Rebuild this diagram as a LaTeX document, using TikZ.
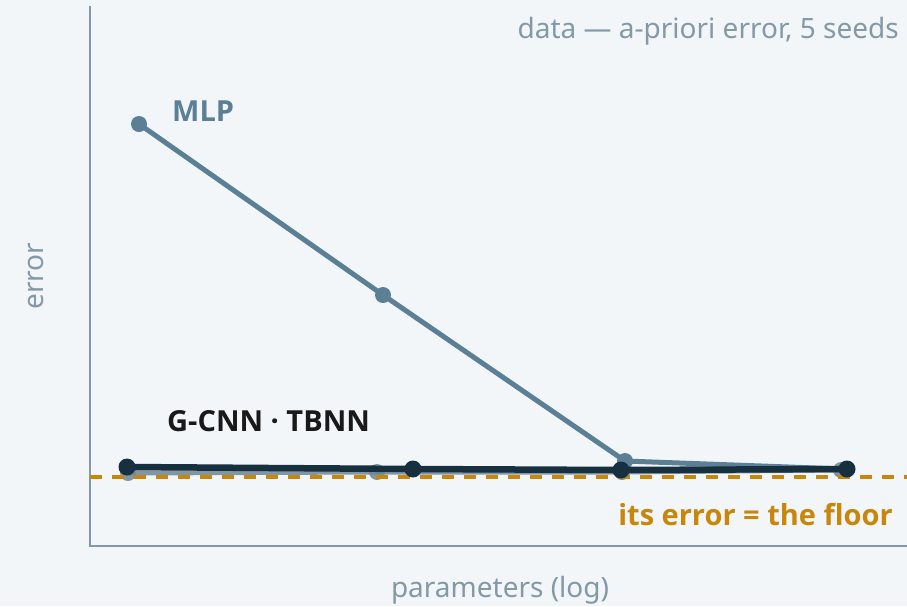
\documentclass[tikz,border=0pt]{standalone}
\usepackage{fontspec}
\setmainfont{Noto Sans}
\newfontfamily\labelfam{Open Sans}
\definecolor{bg}{HTML}{F3F6F9}
\definecolor{axisc}{HTML}{8399A6}
\definecolor{mlpc}{HTML}{5B7F95}
\definecolor{darkc}{HTML}{16303F}
\definecolor{grayc}{HTML}{6F8594}
\definecolor{floorc}{HTML}{C8860A}
\tikzset{
  txt/.style={inner sep=0pt, font=\fontsize{28}{34}\selectfont},
  btxt/.style={inner sep=0pt, font=\labelfam\fontsize{29}{35}\selectfont\bfseries},
  axisline/.style={draw=axisc, line width=2pt},
  mlpline/.style={draw=mlpc, line width=5pt, line join=round},
  darkline/.style={draw=darkc, line width=6.5pt, line join=round},
  grayline/.style={draw=grayc, line width=5pt, line join=round, opacity=0.85},
  floorline/.style={draw=floorc, line width=4pt, dash pattern=on 12pt off 10pt},
  mlpdot/.style={circle, fill=mlpc, inner sep=0pt, minimum size=16pt},
  darkdot/.style={circle, fill=darkc, inner sep=0pt, minimum size=17pt},
  graydot/.style={circle, fill=grayc, inner sep=0pt, minimum size=16pt, opacity=0.85},
}
\begin{document}
\begin{tikzpicture}[x=1pt, y=-1pt]
  \fill[bg] (0,0) rectangle (907,606);
  \useasboundingbox (0,0) rectangle (907,606);

  % axes
  \coordinate (ytop) at (90,6);
  \coordinate (origin) at (90,546);
  \coordinate (xend) at (907,546);
  \draw[axisline] (ytop) -- (origin) -- (xend);

  % second baseline series (lighter, partly hidden)
  \node[graydot] (g1) at (128,473) {};
  \node[graydot] (g2) at (377,472) {};
  \node[graydot] (g3) at (622,472) {};
  \node[graydot] (g4) at (841,470) {};
  \draw[grayline] (g1.center) -- (g2.center) -- (g3.center) -- (g4.center);

  % error floor
  \coordinate (f0) at (90,477);
  \coordinate (f1) at (907,477);
  \draw[floorline] (f0) -- (f1);

  % MLP series
  \coordinate (m1) at (139,124);
  \coordinate (m2) at (383,295);
  \coordinate (m3) at (625,461);
  \coordinate (m4) at (843,469);
  \draw[mlpline] (m1) -- (m2) -- (m3) -- (m4);
  \node[mlpdot] (md1) at (m1) {};
  \node[mlpdot] (md2) at (m2) {};
  \node[mlpdot] (md3) at (m3) {};

  % G-CNN / TBNN series
  \node[darkdot] (d1) at (127,467) {};
  \node[darkdot] (d2) at (413,469) {};
  \node[darkdot] (d3) at (621,470) {};
  \node[darkdot] (d4) at (847,469) {};
  \draw[darkline] (d1.center) -- (d2.center) -- (d3.center) -- (d4.center);

  % labels
  \node[txt, text=axisc, anchor=base east] (title) at (899,38) {data — a-priori error, 5 seeds};
  \node[btxt, text=mlpc, anchor=base west] (lmlp) at (172,121) {MLP};
  \node[btxt, text=black!90, anchor=base west] (lcnn) at (167,431) {G-CNN · TBNN};
  \node[btxt, text=floorc, anchor=base east] (lfloor) at (893,525) {its error = the floor};
  \node[txt, text=axisc, anchor=base] (xlab) at (500,597) {parameters (log)};
  \node[txt, text=axisc, anchor=base, rotate=90] (ylab) at (43,276) {error};
\end{tikzpicture}
\end{document}
